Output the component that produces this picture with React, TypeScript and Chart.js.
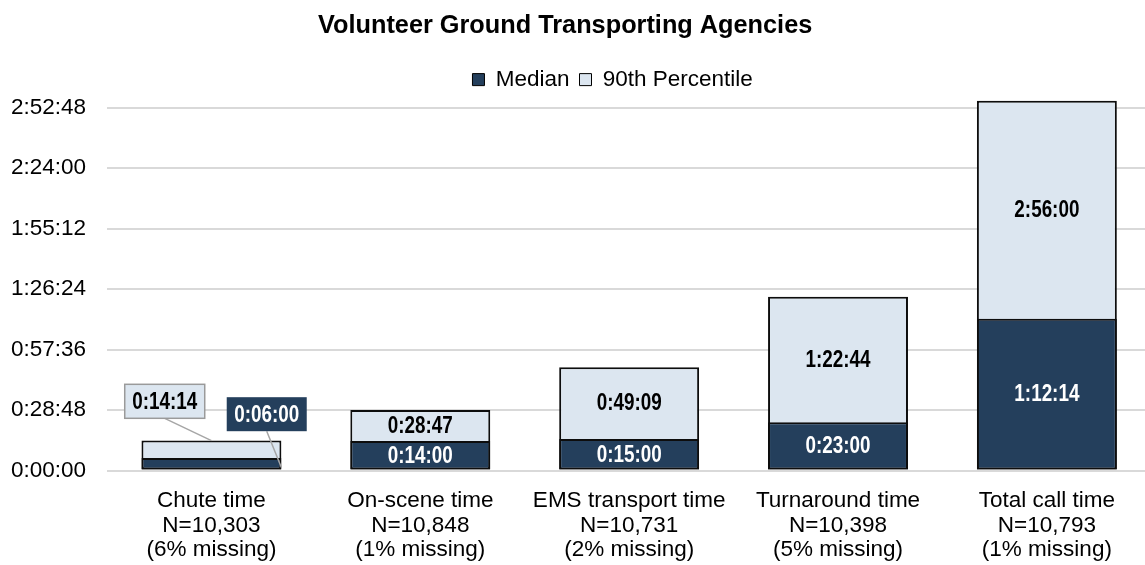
import React, { useEffect, useRef } from "react";
import { Chart, registerables } from "chart.js";

Chart.register(...registerables);

// ---------- data ----------
const categoryNames = ["Chute time", "On-scene time", "EMS transport time", "Turnaround time", "Total call time"];
const sampleSizes = ["N=10,303", "N=10,848", "N=10,731", "N=10,398", "N=10,793"];
const missingShares = ["(6% missing)", "(1% missing)", "(2% missing)", "(5% missing)", "(1% missing)"];
// values in seconds
const medianSeconds = [360, 840, 900, 1380, 4334]; // 0:06:00, 0:14:00, 0:15:00, 0:23:00, 1:12:14
const p90Seconds = [854, 1727, 2949, 4964, 10560]; // 0:14:14, 0:28:47, 0:49:09, 1:22:44, 2:56:00
const calloutLabels = [true, false, false, false, false];
// y ticks (seconds): 0:00:00, 0:28:48, 0:57:36, 1:26:24, 1:55:12, 2:24:00, 2:52:48
const yTickValues = [0, 1728, 3456, 5184, 6912, 8640, 10368];
const yMax = 10560;

const TITLE = "Volunteer Ground Transporting Agencies";
const SANS = '"Liberation Sans", Arial, Helvetica, sans-serif';
const DARK = "#243F5C";
const LIGHT = "#DCE6F0";
const EDGE = "#0d0d0d";
const NARROW_SCALE = 0.82;

const fmt = (s: number) => {
  const h = Math.floor(s / 3600);
  const m = Math.floor((s % 3600) / 60);
  const sec = Math.round(s % 60);
  return `${h}:${String(m).padStart(2, "0")}:${String(sec).padStart(2, "0")}`;
};

const shiftPlugin = {
  id: "shiftBlocks",
  afterLayout(chart: any) {
    const t = chart.titleBlock;
    if (t) { t.left -= 10.5; t.right -= 10.5; }
    const l = chart.legend;
    if (l) { l.left += 37; l.right += 37; }
  },
};

const narrowText = (ctx: CanvasRenderingContext2D, text: string, x: number, y: number) => {
  ctx.save();
  ctx.translate(x, y);
  ctx.scale(NARROW_SCALE, 1);
  ctx.fillText(text, 0, 0);
  ctx.restore();
};

const labelPlugin = {
  id: "barLabels",
  afterDatasetsDraw(chart: any) {
    const ctx = chart.ctx as CanvasRenderingContext2D;
    const medMeta = chart.getDatasetMeta(0);
    const p90Meta = chart.getDatasetMeta(1);
    ctx.save();
    ctx.font = `bold 23px ${SANS}`;
    ctx.textAlign = "center";
    ctx.textBaseline = "middle";
    medMeta.data.forEach((medBar: any, i: number) => {
      const p90Bar = p90Meta.data[i];
      const { x, y: medTop, base, width } = medBar.getProps(["x", "y", "base", "width"], true);
      const p90Top = p90Bar.getProps(["y"], true).y;
      const medText = fmt(medianSeconds[i]);
      const p90Text = fmt(p90Seconds[i]);
      if (calloutLabels[i]) {
        const h = 34;
        const w1 = ctx.measureText(p90Text).width * NARROW_SCALE + 15;
        const w2 = ctx.measureText(medText).width * NARROW_SCALE + 15;
        const c1x = x - 46.7, c1y = p90Top - 39.3;
        const c2x = x + 55.3, c2y = medTop - 43.7;
        ctx.strokeStyle = "#a6a6a6";
        ctx.lineWidth = 1.5;
        ctx.beginPath();
        ctx.moveTo(c1x, c1y + h / 2);
        ctx.lineTo(x, p90Top);
        ctx.moveTo(c2x, c2y + h / 2);
        ctx.lineTo(x + width / 2, base - 2);
        ctx.stroke();
        ctx.fillStyle = LIGHT;
        ctx.fillRect(c1x - w1 / 2, c1y - h / 2, w1, h);
        ctx.strokeStyle = "#9a9a9a";
        ctx.lineWidth = 1.5;
        ctx.strokeRect(c1x - w1 / 2, c1y - h / 2, w1, h);
        ctx.fillStyle = DARK;
        ctx.fillRect(c2x - w2 / 2, c2y - h / 2, w2, h);
        ctx.fillStyle = "#000";
        narrowText(ctx, p90Text, c1x, c1y + 1);
        ctx.fillStyle = "#fff";
        narrowText(ctx, medText, c2x, c2y + 1);
      } else {
        ctx.fillStyle = "#fff";
        narrowText(ctx, medText, x, (medTop + base) / 2 + 1);
        ctx.fillStyle = "#000";
        narrowText(ctx, p90Text, x, (p90Top + medTop) / 2 + 1);
      }
    });
    ctx.restore();
  },
};

export default function App() {
  const ref = useRef<HTMLCanvasElement | null>(null);
  useEffect(() => {
    if (!ref.current) return;
    const labels = categoryNames.map((c, i) => [c, sampleSizes[i], missingShares[i]]);
    const chart = new Chart(ref.current, {
      type: "bar",
      data: {
        labels,
        datasets: [
          {
            label: "Median",
            data: medianSeconds,
            backgroundColor: DARK,
            borderColor: EDGE,
            borderWidth: 2,
            borderSkipped: false,
            grouped: false,
            clip: false,
            categoryPercentage: 1,
            barPercentage: 0.67,
          } as any,
          {
            label: "90th Percentile",
            data: p90Seconds,
            backgroundColor: LIGHT,
            borderColor: EDGE,
            borderWidth: 2,
            borderSkipped: false,
            grouped: false,
            clip: false,
            categoryPercentage: 1,
            barPercentage: 0.67,
          } as any,
        ],
      },
      options: {
        responsive: false,
        animation: false,
        devicePixelRatio: 1,
        layout: { padding: { left: 0, right: 8.7, top: 0, bottom: 0 } },
        scales: {
          x: {
            grid: { display: false },
            border: { display: false },
            ticks: {
              color: "#000",
              font: { family: SANS, size: 22.5, lineHeight: 1.08 },
              padding: 10.5,
              maxRotation: 0,
              autoSkip: false,
            },
            afterFit: (s: any) => { s.height = 94.5; },
          },
          y: {
            min: 0,
            max: yMax,
            border: { display: false },
            grid: { color: "#d9d9d9", lineWidth: 2, drawTicks: false },
            ticks: {
              color: "#000",
              font: { family: SANS, size: 22.5 },
              padding: 21,
              autoSkip: false,
              callback: (v: any) => fmt(Number(v)),
            },
            afterBuildTicks: (s: any) => {
              s.ticks = yTickValues.map((v) => ({ value: v }));
            },
            afterFit: (s: any) => { s.width = 107; },
          },
        },
        plugins: {
          title: {
            display: true,
            text: TITLE,
            color: "#000",
            font: { family: SANS, size: 25.3, weight: "bold", lineHeight: 1.2 },
            padding: { top: 11, bottom: 17 },
          },
          legend: {
            display: true,
            position: "top",
            labels: {
              color: "#000",
              font: { family: SANS, size: 22.5 },
              boxWidth: 12,
              boxHeight: 12,
              padding: 10,
              generateLabels: (c: any) =>
                Chart.defaults.plugins.legend.labels.generateLabels(c).map((l: any) => ({
                  ...l,
                  lineWidth: 1,
                  strokeStyle: "#000",
                })),
            },
          },
          tooltip: { enabled: false },
        },
      },
      plugins: [shiftPlugin, labelPlugin],
    });
    return () => chart.destroy();
  }, []);

  return (
    <div style={{ position: "absolute", left: 0, top: 0, width: 1145, height: 565, overflow: "hidden", background: "#fff" }}>
      <canvas ref={ref} width={1160} height={565} style={{ display: "block" }} />
    </div>
  );
}
